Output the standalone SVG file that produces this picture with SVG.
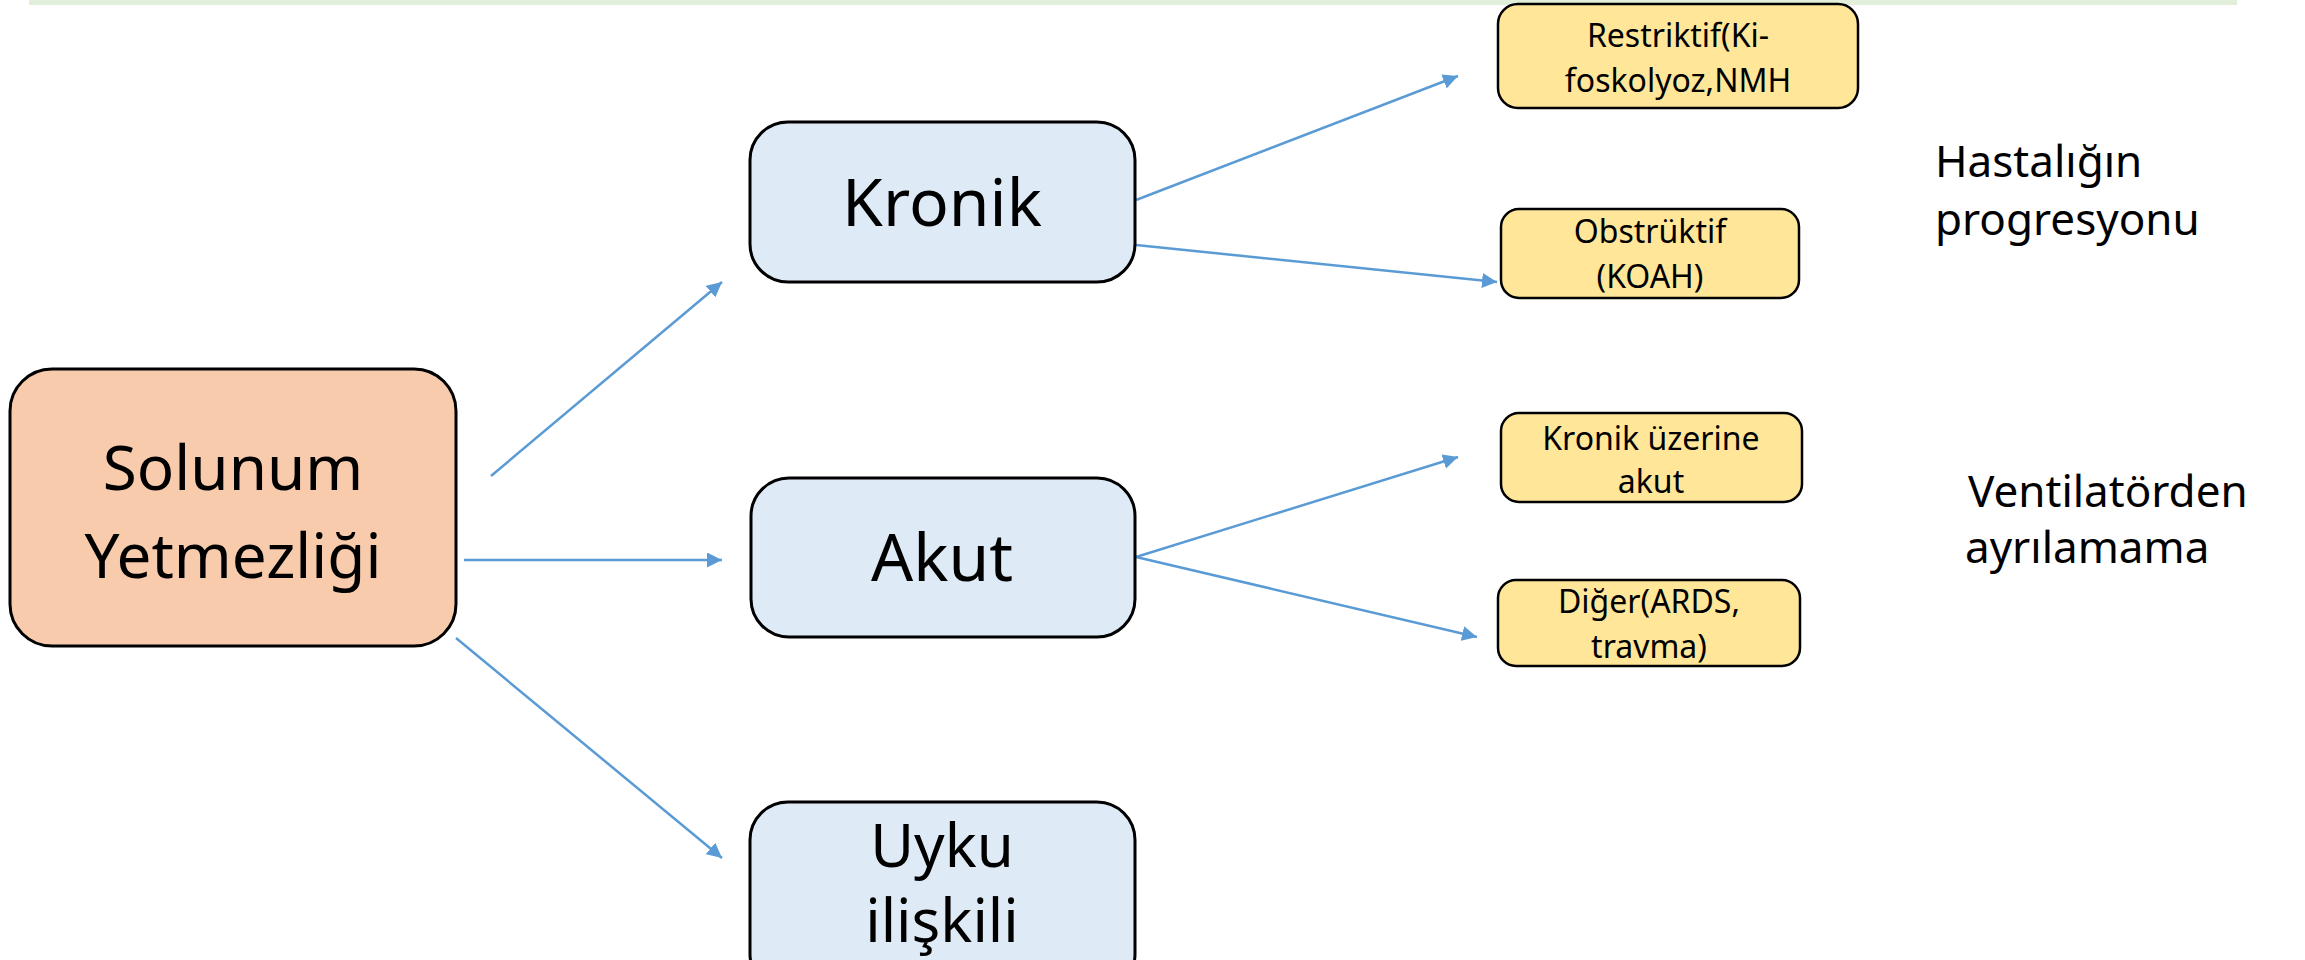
<svg xmlns="http://www.w3.org/2000/svg" width="2305" height="960" viewBox="0 0 2305 960">
<style>
.t{font-family:"Comic Sans MS","Noto Sans",sans-serif;fill:#000;text-anchor:middle}
.main{fill:#F8CBAD;stroke:#000;stroke-width:3}
.blue{fill:#DEEBF7;stroke:#000;stroke-width:3}
.yel{fill:#FFE699;stroke:#000;stroke-width:2.5}
.c{stroke:#5B9BD5;stroke-width:2.5;fill:none;marker-end:url(#ah)}
</style>
<defs>
<marker id="ah" viewBox="0 0 10 10" refX="10" refY="5" markerWidth="6" markerHeight="6" markerUnits="strokeWidth" orient="auto">
<path d="M0,0 L10,5 L0,10 z" fill="#5B9BD5"/>
</marker>
</defs>
<rect x="29" y="0" width="2208" height="5" fill="#E2EFDA"/>
<g id="connectors">
<line class="c" x1="491" y1="476" x2="722" y2="282"/>
<line class="c" x1="464" y1="560" x2="722" y2="560"/>
<line class="c" x1="456" y1="638" x2="722" y2="858"/>
<line class="c" x1="1136" y1="200" x2="1458" y2="76"/>
<line class="c" x1="1136" y1="245" x2="1497" y2="282"/>
<line class="c" x1="1136" y1="557" x2="1458" y2="457"/>
<line class="c" x1="1136" y1="557" x2="1477" y2="637"/>
</g>
<g id="solunum">
<rect class="main" x="10" y="369" width="446" height="277" rx="42"/>
<text class="t" x="233" y="490" font-size="62">Solunum</text>
<text class="t" x="233" y="578" font-size="62">Yetmezliği</text>
</g>
<g id="kronik">
<rect class="blue" x="750" y="122" width="385" height="160" rx="38"/>
<text class="t" x="942" y="226" font-size="66">Kronik</text>
</g>
<g id="akut">
<rect class="blue" x="751" y="478" width="384" height="159" rx="38"/>
<text class="t" x="942" y="581" font-size="66">Akut</text>
</g>
<g id="uyku">
<rect class="blue" x="750" y="802" width="385" height="190" rx="38"/>
<text class="t" x="942" y="867" font-size="60">Uyku</text>
<text class="t" x="942" y="942" font-size="60">ilişkili</text>
</g>
<g id="restriktif">
<rect class="yel" x="1498" y="4" width="360" height="104" rx="20"/>
<text class="t" x="1678" y="47" font-size="32">Restriktif(Ki-</text>
<text class="t" x="1678" y="92" font-size="32">foskolyoz,NMH</text>
</g>
<g id="obstruktif">
<rect class="yel" x="1501" y="209" width="298" height="89" rx="18"/>
<text class="t" x="1650" y="243" font-size="32">Obstrüktif</text>
<text class="t" x="1650" y="288" font-size="32">(KOAH)</text>
</g>
<g id="kronik-uzerine">
<rect class="yel" x="1501" y="413" width="301" height="89" rx="18"/>
<text class="t" x="1651" y="450" font-size="32">Kronik üzerine</text>
<text class="t" x="1651" y="493" font-size="32">akut</text>
</g>
<g id="diger">
<rect class="yel" x="1498" y="580" width="302" height="86" rx="18"/>
<text class="t" x="1649" y="613" font-size="32">Diğer(ARDS,</text>
<text class="t" x="1649" y="658" font-size="32">travma)</text>
</g>
<g id="hastaligin">
<text class="t" style="text-anchor:start" x="1935" y="177" font-size="44">Hastalığın</text>
<text class="t" style="text-anchor:start" x="1935" y="235" font-size="44">progresyonu</text>
</g>
<g id="ventilator">
<text class="t" style="text-anchor:start" x="1968" y="507" font-size="44">Ventilatörden</text>
<text class="t" style="text-anchor:start" x="1965" y="563" font-size="44">ayrılamama</text>
</g>
</svg>
